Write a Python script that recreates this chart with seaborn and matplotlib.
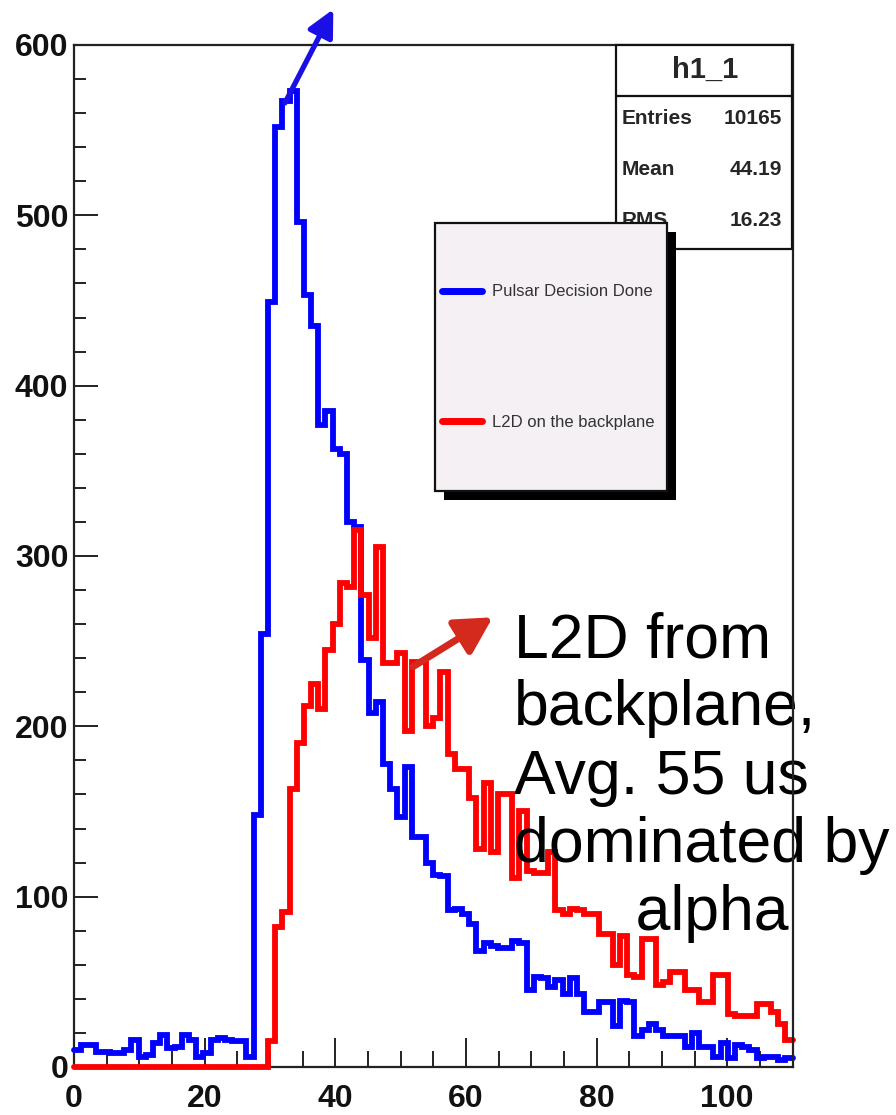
import numpy as np
import pandas as pd
import seaborn as sns
import matplotlib.pyplot as plt
from matplotlib.patches import Rectangle
from matplotlib.lines import Line2D
from matplotlib.ticker import MultipleLocator
from matplotlib.transforms import Affine2D

# h1_1 binning: 100 bins between 0 and 110
n_bins = 100
x_lo, x_hi = 0, 110

# counts per bin
pulsar_counts = [
    10, 13, 13, 9, 9, 8, 8, 10, 16, 6,
    7, 14, 19, 11, 12, 19, 16, 6, 8, 16,
    17, 16, 15, 15, 6, 148, 254, 449, 552, 567,
    573, 496, 453, 435, 377, 385, 363, 360, 320, 317,
    239, 208, 214, 178, 163, 147, 176, 135, 135, 120,
    113, 112, 92, 93, 90, 84, 68, 73, 71, 70,
    70, 74, 73, 45, 53, 52, 47, 51, 43, 52,
    43, 32, 32, 38, 38, 24, 39, 38, 18, 22,
    25, 22, 18, 18, 18, 12, 20, 12, 12, 6,
    14, 5, 13, 12, 10, 5, 6, 6, 4, 5,
]
l2d_counts = [
    0, 0, 0, 0, 0, 0, 0, 0, 0, 0,
    0, 0, 0, 0, 0, 0, 0, 0, 0, 0,
    0, 0, 0, 0, 0, 0, 0, 15, 82, 91,
    163, 190, 212, 225, 210, 245, 260, 284, 282, 315,
    277, 252, 305, 237, 237, 243, 197, 238, 238, 200,
    205, 232, 184, 175, 175, 158, 128, 167, 126, 160,
    160, 111, 150, 115, 114, 114, 126, 92, 90, 93,
    92, 90, 90, 78, 78, 60, 77, 54, 53, 75,
    75, 48, 50, 56, 56, 45, 45, 38, 38, 54,
    54, 31, 30, 30, 30, 37, 37, 32, 25, 16,
]
series_names = ["Pulsar Decision Done", "L2D on the backplane"]
series_colors = ["#0000ff", "#ff0000"]

stats_title = "h1_1"
stats_labels = ["Entries", "Mean", "RMS"]
stats_values = ["10165", "44.19", "16.23"]

note_text = "L2D from\nbackplane,\nAvg. 55 us\ndominated by\n       alpha"

x_ticks = [0, 20, 40, 60, 80, 100]
y_ticks = [0, 100, 200, 300, 400, 500, 600]

edges = np.linspace(x_lo, x_hi, n_bins + 1)
centers = (edges[:-1] + edges[1:]) / 2
df = pd.DataFrame({
    "t": np.concatenate([centers, centers]),
    "n": pulsar_counts + l2d_counts,
    "which": [series_names[0]] * n_bins + [series_names[1]] * n_bins,
})

sns.set_style("ticks")
plt.rcParams["font.family"] = ["Liberation Sans", "DejaVu Sans"]

W, H = 896, 1115
fig = plt.figure(figsize=(W / 100, H / 100), dpi=100)
# pixel coords measured from the top-left corner of the picture
pix = Affine2D().scale(1 / W, -1 / H).translate(0, 1) + fig.transFigure

ax = fig.add_axes([74 / W, 48 / H, 718.5 / W, 1022 / H])

for name, col in zip(series_names, series_colors):
    sub = df[df["which"] == name]
    sns.histplot(data=sub, x="t", weights="n", bins=edges.tolist(), element="step",
                 fill=False, color=col, linewidth=4.2, ax=ax)
for ln in ax.lines:
    ln.set_clip_on(False)
    ln.set_zorder(3)
    ln.set_solid_joinstyle("miter")

ax.set_xlim(x_lo, x_hi)
ax.set_ylim(0, 600)
ax.set_xlabel("")
ax.set_ylabel("")
ax.set_xticks(x_ticks)
ax.set_yticks(y_ticks)
ax.xaxis.set_minor_locator(MultipleLocator(5))
ax.yaxis.set_minor_locator(MultipleLocator(20))
for s in ax.spines.values():
    s.set_visible(True)
    s.set_linewidth(1.6)
    s.set_color("#222222")
# the frame runs over the big note on the right
ax.spines["right"].set_zorder(5)
ax.tick_params(axis="both", which="both", direction="in", top=False, right=False,
               width=1.3, color="#111111")
ax.tick_params(axis="y", which="major", length=17, pad=4)
ax.tick_params(axis="y", which="minor", length=8.5)
ax.tick_params(axis="x", which="major", length=21, pad=12)
ax.tick_params(axis="x", which="minor", length=11.5)
for lab in ax.get_xticklabels() + ax.get_yticklabels():
    lab.set_fontsize(23)
    lab.set_fontweight("bold")
    lab.set_color("#111111")

# arrows and the note
ax.annotate("", xy=(39.7, 621), xytext=(32.3, 566), annotation_clip=False,
            arrowprops=dict(arrowstyle="-|>,head_length=0.9,head_width=0.45",
                            lw=3.8, color="#1a10e6", shrinkA=0, shrinkB=0,
                            mutation_scale=18))
ax.annotate("", xy=(64.1, 264), xytext=(51.9, 235), annotation_clip=False,
            arrowprops=dict(arrowstyle="-|>,head_length=1.0,head_width=0.55",
                            lw=5, color="#d42a1e", shrinkA=0, shrinkB=0,
                            mutation_scale=22))
# baseline of the last line ("alpha")
ax.text(67.4, 80.4, note_text, fontsize=45, color="black", ha="left",
        va="baseline", linespacing=1.2, clip_on=False, zorder=4)

# stats box
fig.add_artist(Rectangle((615.7, 45), 176.6, 204.3, transform=pix, facecolor="white",
                         edgecolor="#111111", lw=1.6, zorder=1))
fig.add_artist(Line2D([615.7, 792.3], [95.7, 95.7], transform=pix, color="#111111",
                      lw=1.6, zorder=1.1))
fig.text(705, 70, stats_title, transform=pix, fontsize=21, fontweight="bold",
         ha="center", va="center", zorder=2)
for i, (lab, val) in enumerate(zip(stats_labels, stats_values)):
    yy = 118 + i * 51.5
    fig.text(622, yy, lab, transform=pix, fontsize=15, fontweight="bold",
             ha="left", va="center", zorder=2)
    fig.text(782, yy, val, transform=pix, fontsize=15, fontweight="bold",
             ha="right", va="center", zorder=2)

# legend box with a hard black shadow
fig.add_artist(Rectangle((444, 232), 232, 268, transform=pix, facecolor="black",
                         edgecolor="none", zorder=3))
fig.add_artist(Rectangle((435, 223), 232, 268, transform=pix, facecolor="#f4f0f4",
                         edgecolor="#111111", lw=1.6, zorder=4))
handles = [Line2D([], [], color=c, lw=5) for c in series_colors]
leg = fig.legend(handles, series_names, loc="center", bbox_to_anchor=(548, 357),
                 bbox_transform=pix, frameon=False, fontsize=12, labelspacing=6.9,
                 handlelength=2.4, handletextpad=0.6, labelcolor="#333333")
leg.set_zorder(5)

fig.savefig("out.png", dpi=100)
